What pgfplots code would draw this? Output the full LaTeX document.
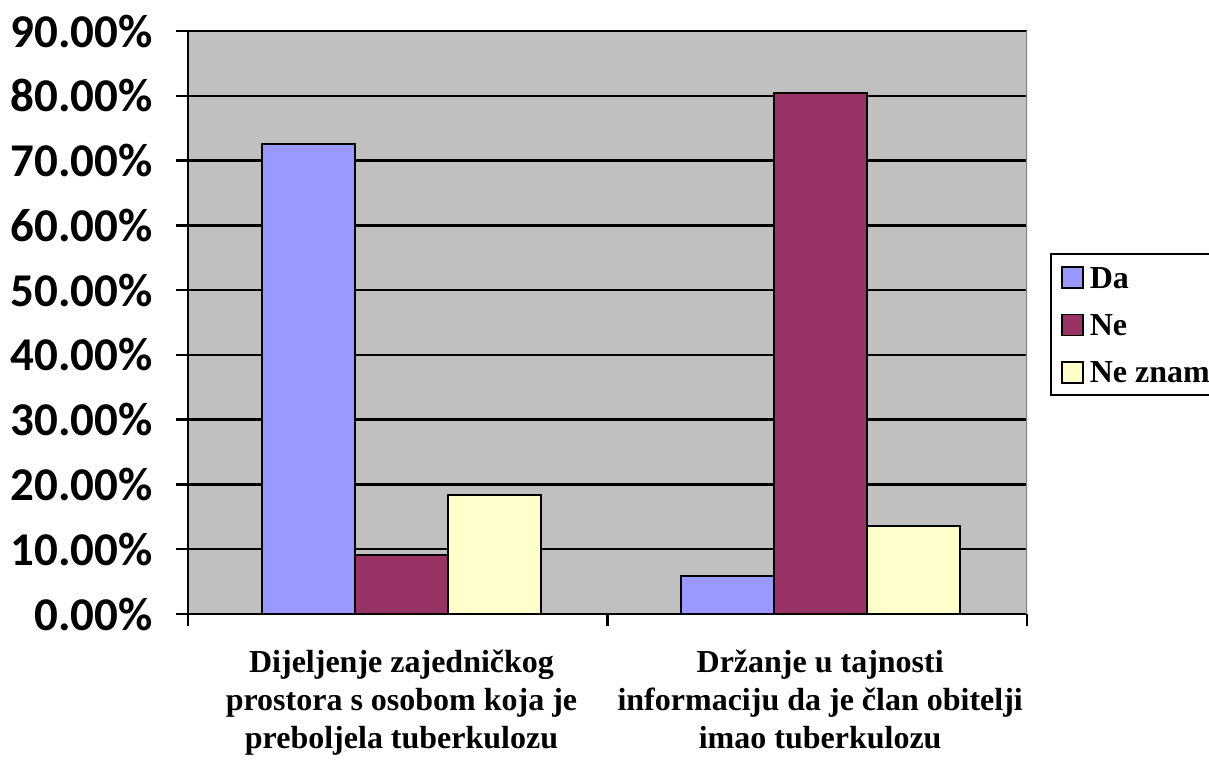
\documentclass[border=0pt]{standalone}
\usepackage{pgfplots}
\pgfplotsset{compat=1.18}
\usepackage{fontspec}
\setmainfont{Liberation Serif}
\newfontfamily\carlito{Carlito}
\definecolor{da}{HTML}{9999FF}
\definecolor{ne}{HTML}{993366}
\definecolor{nz}{HTML}{FFFFCC}
\definecolor{bg}{HTML}{C0C0C0}
\begin{document}
\begin{tikzpicture}[x=1pt,y=1pt]
\useasboundingbox (0,0) rectangle (1209,760);
\begin{axis}[
  at={(188pt,146pt)}, anchor=south west,
  scale only axis, width=839pt, height=583pt,
  xmin=-0.5, xmax=1.5, ymin=0, ymax=90,
  ybar=0pt, bar width=93pt,
  axis background/.style={fill=bg},
  axis lines=left, axis line style={-, line width=2.5pt, black},
  ymajorgrids, grid style={black, line width=2.5pt},
  tick style={black, line width=2.5pt}, major tick length=12pt, tick align=outside,
  ytick={0,10,...,90},
  yticklabels={0.00\%,10.00\%,20.00\%,30.00\%,40.00\%,50.00\%,60.00\%,70.00\%,80.00\%,90.00\%},
  yticklabel style={font=\carlito\bfseries\fontsize{47}{50}\selectfont, anchor=east, inner sep=0pt, xshift=-23pt},
  xtick={-0.5,0.5,1.5}, xticklabels={},
  extra x ticks={0.009,1.007},
  extra x tick labels={{Dijeljenje zajedničkog\\prostora s osobom koja je\\preboljela tuberkulozu},{Držanje u tajnosti\\informaciju da je član obitelji\\imao tuberkulozu}},
  extra x tick style={major tick length=0pt, xticklabel style={align=center, font=\bfseries\fontsize{32}{38}\selectfont, anchor=north, inner sep=0pt, yshift=-36pt}},
  legend style={at={(rel axis cs:1.0274,0.619)}, anchor=north west, draw=black, line width=2pt, fill=white,
    font=\bfseries\fontsize{32}{34}\selectfont, inner xsep=10pt, inner ysep=11pt, row sep=23.5pt, column sep=6pt,
    nodes={inner sep=0pt, text height=23pt, text depth=0pt}},
  legend cell align=left,
  legend image code/.code={\draw[#1, line width=1.8pt] (0pt,-11.5pt) rectangle (21pt,9.5pt);},
]
\addplot[fill=da, draw=black, line width=2pt] coordinates {(0.009,72.5) (1.007,5.8)};
\addplot[fill=ne, draw=black, line width=2pt] coordinates {(0.009,9.1) (1.007,80.4)};
\addplot[fill=nz, draw=black, line width=2pt] coordinates {(0.009,18.3) (1.007,13.6)};
\legend{Da,Ne,Ne znam}
\draw[color=gray, line width=1.5pt] (rel axis cs:1,0) -- (rel axis cs:1,1);
\end{axis}
\end{tikzpicture}
\end{document}
